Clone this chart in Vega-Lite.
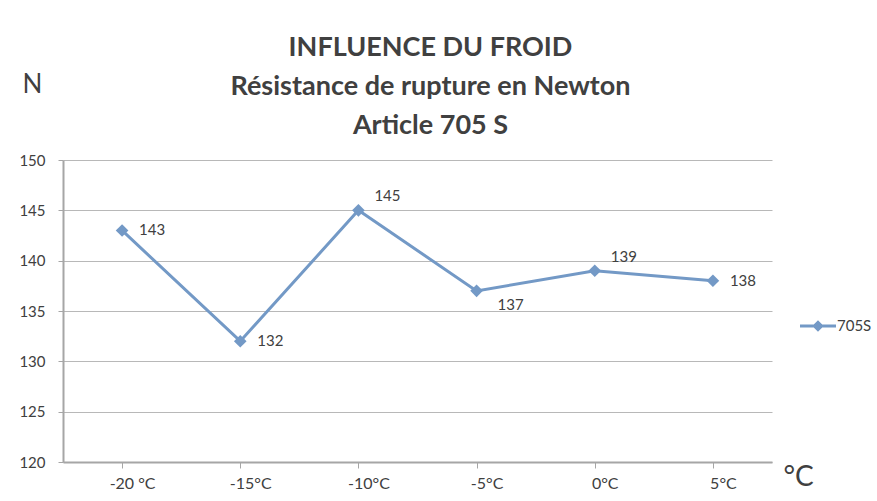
{
  "$schema": "https://vega.github.io/schema/vega-lite/v6.json",
  "autosize": {"type": "none"},
  "padding": {"left": 63, "top": 160, "right": 105, "bottom": 39},
  "width": 709,
  "height": 302,
  "background": "white",
  "config": {
    "font": "Lato",
    "view": {"stroke": null}
  },
  "title": {
    "text": ["INFLUENCE DU FROID", "Résistance de rupture en Newton", "Article 705 S"],
    "font": "Lato",
    "fontSize": 27,
    "fontWeight": "bold",
    "color": "#404040",
    "lineHeight": 39,
    "anchor": "middle",
    "frame": "group",
    "dx": 13,
    "offset": -69
  },
  "data": {
    "values": [
      {"temp": "-20 °C", "value": 143, "series": "705S"},
      {"temp": "-15°C", "value": 132, "series": "705S"},
      {"temp": "-10°C", "value": 145, "series": "705S"},
      {"temp": "-5°C", "value": 137, "series": "705S"},
      {"temp": "0°C", "value": 139, "series": "705S"},
      {"temp": "5°C", "value": 138, "series": "705S"}
    ]
  },
  "encoding": {
    "x": {
      "field": "temp",
      "type": "ordinal",
      "sort": null,
      "scale": {"type": "point", "padding": 0.5},
      "axis": {
        "title": "°C",
        "titleFont": "Lato",
        "titleFontSize": 28,
        "titleFontWeight": "normal",
        "titleColor": "#404040",
        "titleAnchor": "start",
        "titleAlign": "left",
        "titleBaseline": "alphabetic",
        "titleX": 720,
        "titleY": 23,
        "labelAngle": 0,
        "labelFontSize": 16,
        "labelColor": "#404040",
        "labelPadding": 7,
        "labelOffset": 10,
        "domainColor": "#a6a6a6",
        "domainWidth": 2,
        "tickColor": "#a6a6a6",
        "tickSize": 6,
        "tickWidth": 1,
        "grid": false
      }
    },
    "y": {
      "field": "value",
      "type": "quantitative",
      "scale": {"domain": [120, 150], "nice": false, "zero": false},
      "axis": {
        "title": "N",
        "titleFont": "Lato",
        "titleFontSize": 26,
        "titleFontWeight": "normal",
        "titleColor": "#404040",
        "titleAngle": 0,
        "titleAlign": "left",
        "titleBaseline": "alphabetic",
        "titleX": -41,
        "titleY": -68,
        "values": [120, 125, 130, 135, 140, 145, 150],
        "labelFontSize": 15,
        "labelColor": "#404040",
        "labelPadding": 13,
        "domainColor": "#a6a6a6",
        "domainWidth": 2,
        "tickColor": "#a6a6a6",
        "tickSize": 5,
        "gridColor": "#b8b8b8",
        "gridWidth": 1
      }
    }
  },
  "layer": [
    {
      "mark": {"type": "line", "strokeWidth": 3},
      "encoding": {
        "color": {
          "field": "series",
          "type": "nominal",
          "scale": {"range": ["#7399c6"]},
          "legend": {
            "title": null,
            "orient": "none",
            "legendX": 737,
            "legendY": 148,
            "symbolType": "M-1,-0.085H1V0.085H-1Z M0,-0.32L0.32,0L0,0.32L-0.32,0Z",
            "symbolSize": 1296,
            "symbolStrokeWidth": 0,
            "symbolFillColor": "#7399c6",
            "symbolOpacity": 1,
            "labelFontSize": 15,
            "labelColor": "#404040",
            "labelOffset": 1
          }
        }
      }
    },
    {
      "mark": {"type": "point", "shape": "diamond", "filled": true, "size": 160, "color": "#7399c6", "opacity": 1}
    },
    {
      "transform": [{"filter": "datum.value == 143 || datum.value == 132 || datum.value == 138"}],
      "mark": {"type": "text", "align": "left", "baseline": "middle", "dx": 17, "fontSize": 15, "color": "#404040"},
      "encoding": {"text": {"field": "value", "type": "quantitative"}}
    },
    {
      "transform": [{"filter": "datum.value == 145 || datum.value == 139"}],
      "mark": {"type": "text", "align": "left", "baseline": "middle", "dx": 16, "dy": -14, "fontSize": 15, "color": "#404040"},
      "encoding": {"text": {"field": "value", "type": "quantitative"}}
    },
    {
      "transform": [{"filter": "datum.value == 137"}],
      "mark": {"type": "text", "align": "left", "baseline": "middle", "dx": 21, "dy": 14, "fontSize": 15, "color": "#404040"},
      "encoding": {"text": {"field": "value", "type": "quantitative"}}
    }
  ]
}
